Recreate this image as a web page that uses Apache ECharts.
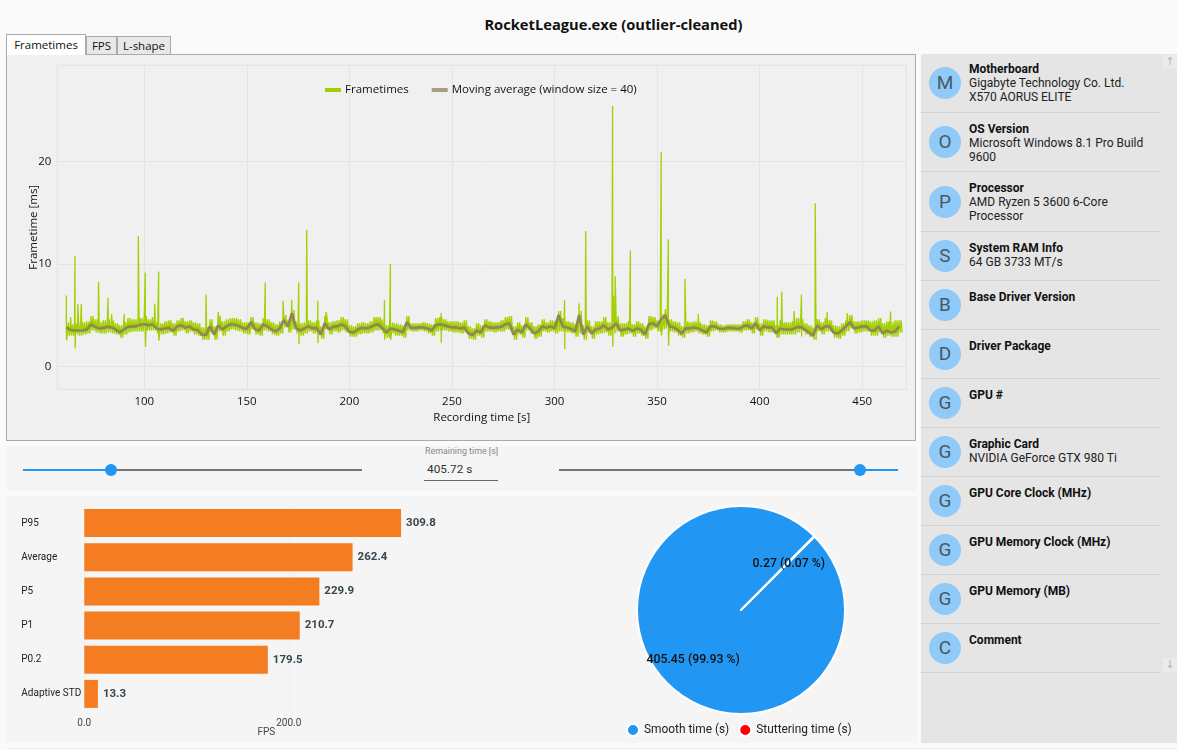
<!DOCTYPE html>
<html>
<head>
<meta charset="utf-8">
<title>RocketLeague.exe (outlier-cleaned)</title>
<script src="https://cdn.jsdelivr.net/npm/echarts@6/dist/echarts.min.js"></script>
<style>
    html, body { margin: 0; padding: 0; width: 1177px; height: 749px; overflow: hidden; background: #fafafa; }
    body { position: relative; font-family: "Open Sans", "Noto Sans", sans-serif; color: #111; }
    .abs { position: absolute; }
    #title { left: 0; top: 13px; width: 1227px; text-align: center; font: 700 14.7px/22px "Open Sans", sans-serif; color: #111; }
    .tab { position: absolute; box-sizing: border-box; border: 1px solid #aaa; border-bottom: none; background: #e8e8e8; font: 11.5px/18px "Open Sans", sans-serif; text-align: center; }
    .panel { position: absolute; background: #f5f5f5; }
    #framePanel { position: absolute; left: 6px; top: 54px; width: 910px; height: 387px; box-sizing: border-box; border: 1px solid #aaa; background: #f0f0f0; }
    .track { position: absolute; height: 2px; top: 469px; }
    .thumb { position: absolute; width: 12px; height: 12px; border-radius: 50%; top: 464px; background: #2196f3; }
    #sidebar { left: 921px; top: 54px; width: 256px; height: 689px; background: #e5e5e5; }
    .item { position: absolute; left: 0; width: 240px; box-sizing: border-box; border-bottom: 1px solid #d2d2d2; }
    .avatar { position: absolute; left: 8px; width: 32px; height: 32px; border-radius: 50%; background: #90caf9; color: #455a64; font: 19px/32px Roboto, sans-serif; text-align: center; }
    .itemTitle { position: absolute; left: 48px; top: 9px; font: 700 12px/14px Roboto, sans-serif; color: #111; white-space: nowrap; }
    .itemValue { position: absolute; left: 48px; top: 23px; font: 12px/14px Roboto, sans-serif; color: #222; white-space: pre-line; }
    .scroll { position: absolute; left: 1163px; width: 14px; height: 14px; background: #ebebeb; color: #b5b5b5; font: 11px/14px "DejaVu Sans", sans-serif; text-align: center; }
</style>
</head>
<body>
<div id="title" class="abs">RocketLeague.exe (outlier-cleaned)</div>
<div class="tab" style="left:86px;top:36px;width:31px;height:19px;">FPS</div>
<div class="tab" style="left:117px;top:36px;width:54px;height:19px;">L-shape</div>
<div id="framePanel"></div>
<div class="tab" style="left:6px;top:34px;width:80px;height:21px;background:#fff;z-index:2;line-height:19px;">Frametimes</div>
<div id="frameChart" class="abs" style="left:7px;top:55px;width:908px;height:385px;"></div>

<div class="panel" style="left:6px;top:446px;width:911px;height:45px;"></div>
<div class="track" style="left:23px;width:88px;background:#2196f3;"></div>
<div class="track" style="left:111px;width:251px;background:#757575;"></div>
<div class="thumb" style="left:105px;"></div>
<div class="track" style="left:559px;width:301px;background:#757575;"></div>
<div class="track" style="left:860px;width:38px;background:#2196f3;"></div>
<div class="thumb" style="left:854px;"></div>
<div class="abs" style="left:425px;top:445px;font:8.9px/13px Roboto,sans-serif;color:#888;">Remaining time [s]</div>
<div class="abs" style="left:427px;top:461px;font:11.8px/16px Roboto,sans-serif;color:#333;">405.72 s</div>
<div class="abs" style="left:424px;top:480px;width:74px;height:1px;background:#666;"></div>

<div class="panel" style="left:6px;top:496px;width:911px;height:247px;"></div>
<div class="panel" style="left:6px;top:748px;width:1171px;height:1px;background:#eee;"></div>
<div id="barChart" class="abs" style="left:6px;top:496px;width:594px;height:247px;"></div>
<div id="pieChart" class="abs" style="left:600px;top:496px;width:317px;height:247px;"></div>

<div id="sidebar" class="abs"></div>
<div class="scroll" style="top:55px;">↑</div>
<div class="scroll" style="top:658px;">↓</div>

<script>
// Right hand system info list
const infoTitles = ["Motherboard", "OS Version", "Processor", "System RAM Info", "Base Driver Version", "Driver Package", "GPU #",
    "Graphic Card", "GPU Core Clock (MHz)", "GPU Memory Clock (MHz)", "GPU Memory (MB)", "Comment"];
const infoValues = ["Gigabyte Technology Co. Ltd.\nX570 AORUS ELITE", "Microsoft Windows 8.1 Pro Build\n9600", "AMD Ryzen 5 3600 6-Core\nProcessor",
    "64 GB 3733 MT/s", "", "", "", "NVIDIA GeForce GTX 980 Ti", "", "", "", ""];

// Tick labels
const timeTicks = [100, 150, 200, 250, 300, 350, 400, 450];
const frametimeTicks = [0, 10, 20];
const fpsTicks = [0, 200];

// Frametime trace. In each 2 s slot the trace swings between bandHigh and bandLow.
const traceStart = 62;
const bandHigh = [
    4.3,4.1,4.2,4.3,4.3,4.4,4.9,4.6,4.3,4.5,
    4.6,4.5,4.2,4.0,4.3,4.7,4.6,4.6,4.7,4.9,
    4.6,4.8,4.3,4.2,4.4,4.5,4.2,4.5,4.7,4.4,
    4.5,4.3,4.2,3.8,3.8,4.6,3.9,4.9,4.4,4.6,
    4.7,4.7,4.6,4.3,4.3,4.8,4.3,4.2,4.7,4.6,
    4.3,4.1,4.4,5.0,4.5,5.5,4.4,4.2,4.3,4.5,
    4.3,4.5,3.9,4.9,4.3,4.4,4.5,4.8,4.6,4.0,
    3.9,4.2,4.3,4.2,4.4,4.8,4.8,4.6,4.0,4.3,
    4.2,4.1,4.0,4.9,4.2,4.2,4.2,4.3,4.2,4.1,
    4.7,4.8,4.6,4.4,4.4,4.4,4.3,4.5,3.9,3.7,
    4.2,4.0,4.6,4.4,4.3,4.3,4.5,4.8,4.9,3.9,
    4.3,4.0,4.8,4.3,3.9,4.1,4.6,4.3,4.5,4.4,
    5.4,4.7,4.4,4.3,4.1,5.4,4.0,4.5,3.9,4.4,
    4.4,4.8,4.3,4.4,4.9,4.2,4.2,4.4,4.1,4.4,
    4.2,3.9,4.9,4.8,4.5,5.1,5.6,4.6,4.4,4.3,
    3.9,4.4,4.3,4.4,4.3,4.1,4.0,4.5,4.4,4.1,
    4.0,4.1,4.1,4.1,4.1,4.4,4.6,4.3,4.8,4.2,
    4.6,4.5,4.5,4.0,4.5,4.3,4.3,4.4,4.7,4.6,
    4.2,4.0,3.8,4.6,4.3,4.7,4.5,4.0,3.9,4.2,
    4.5,5.0,4.4,4.4,4.5,4.5,4.4,4.5,4.7,4.2,
    4.4,4.3,4.5,4.5
];
const bandLow = [
    3.0,3.0,3.1,3.0,3.1,3.2,3.5,3.3,3.2,3.2,
    3.3,3.2,3.1,2.8,3.1,3.3,3.4,3.4,3.4,3.5,
    3.5,3.5,3.2,3.1,3.2,3.3,3.0,3.4,3.5,3.2,
    3.4,3.1,3.0,2.6,2.6,3.3,2.6,3.4,3.0,3.4,
    3.6,3.5,3.4,3.2,3.1,3.6,3.1,3.0,3.5,3.4,
    3.1,3.0,3.2,3.8,3.3,3.6,3.2,3.0,3.2,3.4,
    3.2,3.2,2.7,3.6,3.1,3.4,3.3,3.5,3.3,2.9,
    2.9,3.1,3.2,3.2,3.3,3.5,3.5,3.2,2.8,3.2,
    3.0,3.0,2.8,3.5,3.4,3.4,3.5,3.4,3.2,3.0,
    3.4,3.5,3.5,3.4,3.3,3.3,3.2,3.3,2.7,2.6,
    3.0,2.8,3.4,3.4,3.3,3.4,3.4,3.6,3.5,2.6,
    3.1,2.8,3.5,3.2,2.7,2.9,3.4,3.3,3.4,3.2,
    3.4,3.4,3.3,3.2,2.9,3.2,2.6,3.3,2.7,3.1,
    3.2,3.3,3.0,3.2,3.4,2.9,3.1,3.2,2.9,3.2,
    3.0,2.7,3.5,3.7,3.4,3.6,3.7,3.4,3.3,3.0,
    2.8,3.2,3.3,3.4,3.2,3.1,2.9,3.4,3.5,3.3,
    3.3,3.4,3.4,3.4,3.3,3.5,3.5,3.2,3.6,3.0,
    3.4,3.3,3.3,2.8,3.1,3.1,3.1,3.1,3.3,3.4,
    3.1,2.9,2.6,3.4,3.1,3.4,3.4,2.8,2.7,3.0,
    3.4,3.7,3.2,3.3,3.4,3.4,3.0,3.0,3.3,2.8,
    3.0,2.9,2.9,3.3
];
// single frames that stick out of the band: [time, frametime]
const spikes = [
    [62.0,6.9],[62.1,2.55],[64.1,4.8],[66.2,10.8],[66.3,1.75],[67.6,6.1],[69.3,6.1],[77.7,8.25],[82.3,6.7],[84.1,5.1],
    [90.2,5.1],[97.1,12.7],[100.5,9.15],[100.6,1.9],[105.1,6.1],[107.0,9.25],[107.1,2.5],[130.1,7.0],[136.1,5.3],
    [159.0,8.2],[167.7,6.4],[171.9,6.5],[175.3,8.2],[175.4,2.15],[179.2,13.3],[184.6,6.4],[184.7,2.25],[188.6,5.3],
    [217.1,6.5],[217.2,2.6],[220.0,10.0],[220.1,2.55],[244.7,5.2],[244.8,2.3],
    [304.9,6.47],[305.0,1.7],[312.0,6.15],[315.2,13.2],[328.3,25.4],[328.4,1.9],[328.8,6.9],[329.6,8.8],[337.0,11.3],
    [352.0,20.9],[352.1,3.0],[355.5,12.4],[355.6,2.0],[363.6,8.55],[370.1,5.1],
    [408.6,6.8],[408.7,2.8],[410.8,7.3],[416.8,5.4],[420.4,7.0],[420.5,2.9],[427.1,15.9],[432.9,5.3],[442.7,5.2],[463.8,5.35]
];
const movingAverage = [
    3.8,3.55,3.5,3.5,3.5,3.6,4.1,3.85,3.7,3.75,
    3.85,3.8,3.6,3.3,3.6,3.85,3.9,3.9,4.05,4.1,
    4.0,4.1,3.7,3.6,3.7,3.75,3.45,3.9,4.0,3.75,
    3.9,3.6,3.55,3.1,3.05,3.9,3.1,4.0,3.6,3.9,
    4.1,4.05,3.95,3.75,3.65,4.3,3.6,3.5,4.1,3.9,
    3.6,3.4,3.7,4.5,3.9,5.2,3.7,3.5,3.7,3.9,
    3.7,3.75,3.1,4.2,3.6,3.85,3.9,4.1,3.9,3.35,
    3.3,3.6,3.75,3.7,3.8,4.0,4.1,3.75,3.3,3.7,
    3.6,3.5,3.3,4.3,3.75,3.75,3.8,3.8,3.7,3.5,
    4.0,4.1,4.0,3.9,3.8,3.8,3.7,3.8,3.2,3.05,
    3.5,3.3,4.0,3.8,3.75,3.8,3.85,4.1,4.2,3.1,
    3.6,3.3,4.1,3.7,3.2,3.4,3.9,3.75,3.9,3.7,
    5.0,3.9,3.8,3.65,3.4,5.0,3.1,3.9,3.2,3.6,
    3.7,4.0,3.6,3.75,4.2,3.5,3.6,3.7,3.45,3.7,
    3.6,3.1,4.1,4.2,3.9,4.6,5.0,3.9,3.8,3.55,
    3.2,3.7,3.7,3.8,3.7,3.5,3.3,3.9,3.9,3.7,
    3.65,3.75,3.75,3.7,3.65,3.9,4.0,3.7,4.2,3.5,
    3.9,3.8,3.8,3.2,3.7,3.6,3.6,3.6,3.8,3.85,
    3.6,3.3,3.0,4.0,3.6,3.9,3.9,3.3,3.2,3.5,
    3.9,4.3,3.7,3.8,3.9,3.9,3.5,3.5,3.9,3.2,
    3.5,3.3,3.4,3.9
];

// Bar chart
const statLabels = ["P95", "Average", "P5", "P1", "P0.2", "Adaptive STD"];
const statValues = [309.8, 262.4, 229.9, 210.7, 179.5, 13.3];

// Pie chart
const stutterNames = ["Smooth time (s)", "Stuttering time (s)"];
const stutterValues = [405.45, 0.27];
const stutterLabels = ["405.45 (99.93 %)", "0.27 (0.07 %)"];

function buildSidebar() {
    const sidebar = document.getElementById("sidebar");
    let top = -1;
    infoTitles.forEach(function (title, i) {
        const twoLines = infoValues[i].indexOf("\n") >= 0;
        const height = twoLines ? 59.5 : 49;
        const item = document.createElement("div");
        item.className = "item";
        item.style.top = top + "px";
        item.style.height = height + "px";
        const avatar = document.createElement("div");
        avatar.className = "avatar";
        avatar.style.top = (height - 32) / 2 + "px";
        avatar.textContent = title.charAt(0);
        const head = document.createElement("div");
        head.className = "itemTitle";
        head.textContent = title;
        const value = document.createElement("div");
        value.className = "itemValue";
        value.textContent = infoValues[i];
        item.append(avatar, head, value);
        sidebar.appendChild(item);
        top += height;
    });
}

function buildTrace() {
    const points = spikes.slice();
    bandHigh.forEach(function (high, i) {
        const t = traceStart + i * 2;
        const low = bandLow[i];
        // one pixel per half second, so the swings fill up to a solid band
        points.push([t, high], [t + 0.5, low], [t + 1, high], [t + 1.5, low]);
    });
    return points.sort(function (a, b) { return a[0] - b[0]; });
}

function renderFrametimes() {
    const chart = echarts.init(document.getElementById("frameChart"));
    const font = "Open Sans";
    chart.setOption({
        animation: false,
        grid: { left: 50.3, top: 10.3, width: 849, height: 324, show: true, borderColor: "#e2e2e2", borderWidth: 1, outerBoundsMode: "none" },
        legend: {
            left: 318,
            top: 29,
            padding: 0,
            itemWidth: 16,
            itemHeight: 4,
            itemGap: 23,
            icon: "rect",
            textStyle: { fontFamily: font, fontSize: 11.5, color: "#111", padding: [0, 0, 0, -1] }
        },
        xAxis: {
            type: "value",
            min: 57.6,
            max: 471.5,
            name: "Recording time [s]",
            nameLocation: "middle",
            nameGap: 22,
            nameTextStyle: { fontFamily: font, fontSize: 11.5, color: "#111" },
            axisLine: { onZero: false, lineStyle: { color: "#e2e2e2" } },
            axisTick: { show: false, customValues: timeTicks },
            axisLabel: { fontFamily: font, fontSize: 11.5, color: "#111", margin: 6, customValues: timeTicks },
            splitLine: { lineStyle: { color: "#e4e4e4" } }
        },
        yAxis: {
            type: "value",
            min: -2.24,
            max: 29.37,
            name: "Frametime [ms]",
            nameLocation: "middle",
            nameGap: 18,
            nameMoveOverlap: false,
            nameTextStyle: { fontFamily: font, fontSize: 11.5, color: "#111" },
            axisLine: { show: false },
            axisTick: { show: false, customValues: frametimeTicks },
            axisLabel: { fontFamily: font, fontSize: 11.5, color: "#111", margin: 6, customValues: frametimeTicks },
            splitLine: { lineStyle: { color: "#e4e4e4" } }
        },
        series: [
            {
                name: "Frametimes",
                type: "line",
                data: buildTrace(),
                showSymbol: false,
                lineStyle: { width: 1.3, color: "#a2d000" },
                itemStyle: { color: "#a2d000" }
            },
            {
                name: "Moving average (window size = 40)",
                type: "line",
                data: movingAverage.map(function (v, i) { return [traceStart + i * 2, v]; }),
                showSymbol: false,
                lineStyle: { width: 2.6, color: "#928657" },
                itemStyle: { color: "#a89c82" }
            }
        ]
    });
}

function renderBars() {
    const chart = echarts.init(document.getElementById("barChart"));
    chart.setOption({
        animation: false,
        grid: { left: 78.3, top: 10, width: 364, height: 205, outerBoundsMode: "none" },
        xAxis: {
            type: "value",
            min: 0,
            max: 356,
            name: "FPS",
            nameLocation: "middle",
            nameGap: 16,
            nameMoveOverlap: false,
            nameTextStyle: { fontFamily: "Roboto", fontSize: 10, color: "#444" },
            axisLine: { show: false },
            axisTick: { show: false, customValues: fpsTicks },
            axisLabel: {
                fontFamily: "Roboto",
                fontSize: 10,
                color: "#444",
                margin: 7,
                customValues: fpsTicks,
                formatter: function (value) { return Number(value).toFixed(1); }
            },
            splitLine: { lineStyle: { color: "#eeeeee" } }
        },
        yAxis: {
            type: "category",
            inverse: true,
            data: statLabels,
            axisLine: { show: false },
            axisTick: { show: false },
            axisLabel: { fontFamily: "Roboto", fontSize: 10, color: "#222", align: "left", margin: 63 }
        },
        series: [{
            type: "bar",
            data: statValues,
            barWidth: 28,
            itemStyle: { color: "#f47d21" },
            label: {
                show: true,
                position: "right",
                distance: 5,
                fontFamily: "Roboto",
                fontSize: 11.5,
                fontWeight: "bold",
                color: "#37474f"
            }
        }]
    });
}

function renderPie() {
    const chart = echarts.init(document.getElementById("pieChart"));
    chart.setOption({
        animation: false,
        color: ["#2196f3", "#ff0000"],
        legend: {
            left: 26,
            top: 227,
            padding: 0,
            icon: "circle",
            itemWidth: 12,
            itemHeight: 12,
            itemGap: 9,
            textStyle: { fontFamily: "Roboto", fontSize: 11.9, color: "#222", padding: 0 }
        },
        series: [{
            type: "pie",
            center: [141, 114],
            radius: [0, 104],
            startAngle: 45,
            data: stutterNames.map(function (name, i) { return { name: name, value: stutterValues[i] }; }),
            itemStyle: { borderColor: "#ffffff", borderWidth: 2 },
            label: {
                position: "inner",
                fontFamily: "Roboto",
                fontSize: 12.3,
                fontWeight: 500,
                color: "#111",
                formatter: function (params) { return stutterLabels[params.dataIndex]; }
            },
            labelLayout: function (params) {
                return params.dataIndex === 0 ? { dx: -9, dy: 11 } : { dx: 9, dy: -7 };
            }
        }]
    });
}

buildSidebar();
renderFrametimes();
renderBars();
renderPie();
</script>
</body>
</html>
